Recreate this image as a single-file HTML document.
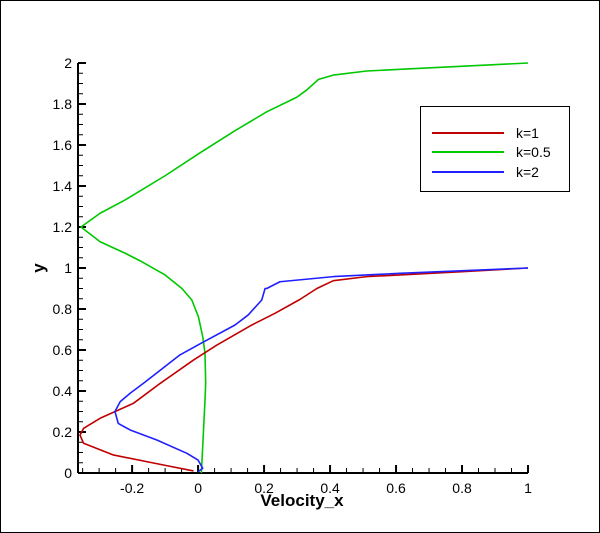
<!DOCTYPE html>
<html><head><meta charset="utf-8"><style>
html,body{margin:0;padding:0;background:#fff}
svg{display:block}
text{font-family:"Liberation Sans",sans-serif}
</style></head><body>
<svg id="chart" width="600" height="533">
<rect x="0.5" y="0.5" width="599" height="532" fill="#fff" stroke="#000"/>
<g id="grid"></g>
<g id="series"></g>
<g id="legend">
<rect x="420.5" y="106.5" width="149" height="85" fill="#fff" stroke="#000"/>
<line x1="432" y1="133" x2="504" y2="133" stroke="#c00000" stroke-width="2"/>
<text x="516" y="138" font-size="14">k=1</text>
<line x1="432" y1="152" x2="504" y2="152" stroke="#00c800" stroke-width="2"/>
<text x="516" y="157" font-size="14">k=0.5</text>
<line x1="432" y1="172" x2="504" y2="172" stroke="#2020ff" stroke-width="2"/>
<text x="516" y="177" font-size="14">k=2</text>
</g>
<text x="302" y="506" font-size="17" font-weight="bold" text-anchor="middle">Velocity_x</text>
<text transform="translate(44,268) rotate(-90)" font-size="17" font-weight="bold" text-anchor="middle">y</text>
</svg>
<script>
const xTicks=[-0.2,0,0.2,0.4,0.6,0.8,1];
const xTickLabels=["-0.2","0","0.2","0.4","0.6","0.8","1"];
const yTicks=[0,0.2,0.4,0.6,0.8,1,1.2,1.4,1.6,1.8,2];
const yTickLabels=["0","0.2","0.4","0.6","0.8","1","1.2","1.4","1.6","1.8","2"];
const k1X=[-0.014,-0.105,-0.257,-0.347,-0.358,-0.347,-0.297,-0.196,-0.115,-0.014,0.057,0.163,0.233,0.309,0.36,0.41,0.511,0.612,0.8,1];
const k1Y=[0.01,0.039,0.088,0.145,0.185,0.218,0.267,0.34,0.437,0.551,0.624,0.722,0.779,0.847,0.9,0.938,0.958,0.966,0.982,1];
const k05X=[0.01,0.021,0.023,0.021,0.014,0.001,-0.019,-0.049,-0.1,-0.171,-0.221,-0.297,-0.355,-0.297,-0.221,-0.1,0.006,0.107,0.208,0.299,0.329,0.365,0.41,0.511,0.612,1];
const k05Y=[0,0.356,0.437,0.584,0.665,0.762,0.844,0.9,0.966,1.031,1.072,1.128,1.2,1.267,1.332,1.45,1.562,1.665,1.762,1.833,1.868,1.92,1.941,1.961,1.969,2];
const k2X=[0,0.014,0,-0.034,-0.125,-0.206,-0.242,-0.252,-0.236,-0.206,-0.166,-0.055,0.006,0.112,0.152,0.193,0.203,0.208,0.248,0.41,0.612,1];
const k2Y=[0.006,0.023,0.063,0.096,0.161,0.21,0.242,0.3,0.348,0.389,0.437,0.576,0.63,0.722,0.771,0.844,0.9,0.9,0.933,0.958,0.974,1];
const X0=78,X1=528,xmin=-0.364,xmax=1,Y0=473,Y1=63,ymin=0,ymax=2;
const sx=v=>X0+(v-xmin)/(xmax-xmin)*(X1-X0);
const sy=v=>Y0-(v-ymin)/(ymax-ymin)*(Y0-Y1);
const NS="http://www.w3.org/2000/svg";
const g=document.getElementById('grid'),s=document.getElementById('series');
function mk(t,a,p){const e=document.createElementNS(NS,t);for(const k in a)e.setAttribute(k,a[k]);p.appendChild(e);return e;}
let ax=mk('line',{x1:X0,y1:Y0,x2:X1,y2:Y0,stroke:'#000','stroke-width':2},g);


let ay=mk('line',{x1:X0,y1:Y0,x2:X0,y2:Y1,stroke:'#000','stroke-width':2},g);


for(let v=-0.35;v<=1.0001;v+=0.05){const px=sx(v);const maj=Math.abs(Math.round(v*100)%20)<1e-6;mk('line',{x1:px,y1:Y0,x2:px,y2:Y0-(maj?8:5),stroke:'#000','stroke-width':maj?2:1},g);}
for(let v=0.05;v<=2.0001;v+=0.05){const py=sy(v);const maj=Math.abs(Math.round(v*100)%20)<1e-6;mk('line',{x1:X0,y1:py,x2:X0+(maj?8:5),y2:py,stroke:'#000','stroke-width':maj?2:1},g);}
xTicks.forEach((v,i)=>{const t=mk('text',{x:sx(v),y:Y0+20,'font-size':14,'text-anchor':'middle'},g);t.textContent=xTickLabels[i];

});
yTicks.forEach((v,i)=>{const t=mk('text',{x:X0-6,y:sy(v)+5,'font-size':14,'text-anchor':'end'},g);t.textContent=yTickLabels[i];

});
function line(xs,ys,c,n){const p=mk('polyline',{points:xs.map((x,i)=>sx(x)+','+sy(ys[i])).join(' '),fill:'none',stroke:c,'stroke-width':1.6,'stroke-linejoin':'round'},s);

}
line(k05X,k05Y,'#00c800','series-k05');
line(k1X,k1Y,'#c00000','series-k1');
line(k2X,k2Y,'#2020ff','series-k2');
</script>
</body></html>
